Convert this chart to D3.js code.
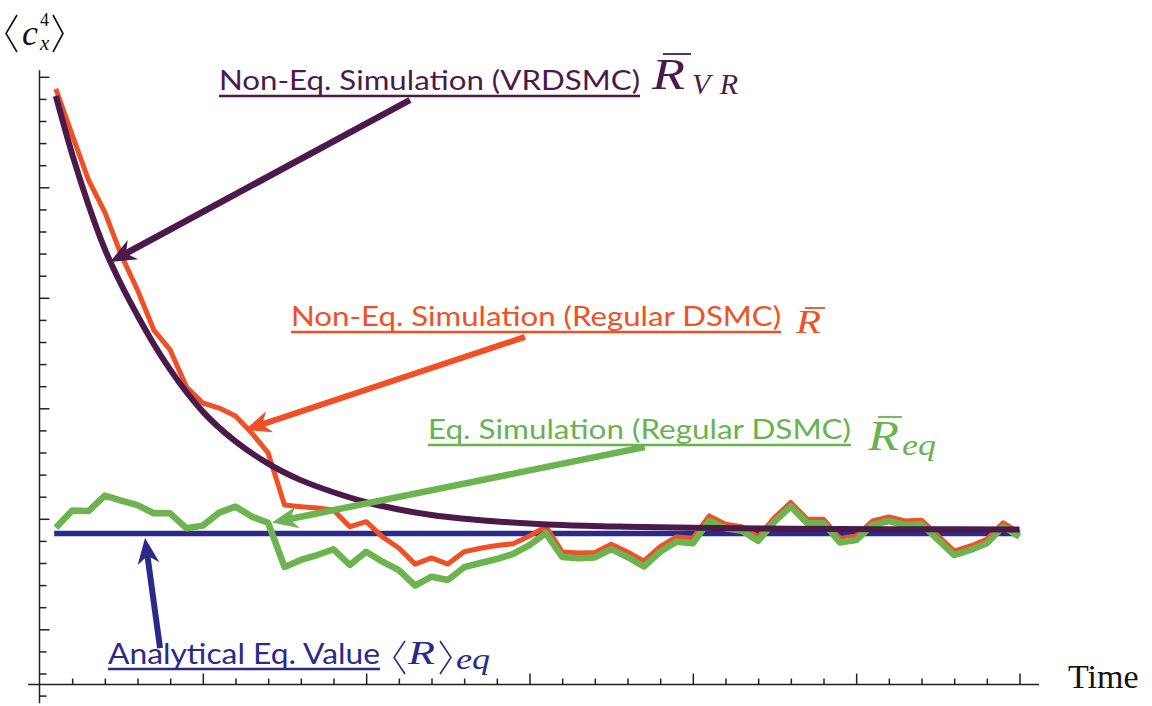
<!DOCTYPE html>
<html>
<head>
<meta charset="utf-8">
<script src="https://cdn.jsdelivr.net/npm/d3@7"></script>
<style>
  html, body { margin: 0; padding: 0; background: #fff; }
  svg { display: block; }
  .label { font-family: Lato, "Open Sans", sans-serif; font-weight: 400; }
  .math { font-family: "Liberation Serif", "DejaVu Serif", serif; font-style: italic; font-weight: normal; }
</style>
</head>
<body>
<svg id="chart"></svg>
<script>
// ---- data (time in tick units, values in minor-tick units) ----
var sampleTimes = [0.5, 1, 1.5, 2, 2.5, 3, 3.5, 4, 4.5, 5,
                   5.5, 6, 6.5, 7, 7.5, 8, 8.5, 9, 9.5, 10,
                   10.5, 11, 11.5, 12, 12.5, 13, 13.5, 14, 14.5, 15,
                   15.5, 16, 16.5, 17, 17.5, 18, 18.5, 19, 19.5, 20,
                   20.5, 21, 21.5, 22, 22.5, 23, 23.5, 24, 24.5, 25,
                   25.5, 26, 26.5, 27, 27.5, 28, 28.5, 29, 29.5, 30];

// Non-Eq. Simulation (Regular DSMC)
var nonEqRegular = [29.45, 27.37, 25.33, 23.88, 21.94, 20.35, 18.54, 17.64, 15.96, 15.24,
                    15.01, 14.65, 13.88, 12.98, 10.62, 10.55, 10.49, 10.40, 9.64, 9.87,
                    9.18, 8.68, 7.95, 8.23, 7.95, 8.51, 8.67, 8.79, 8.87, 9.22,
                    9.66, 8.50, 8.45, 8.47, 8.85, 8.50, 8.08, 8.74, 9.18, 9.12,
                    10.13, 9.75, 9.64, 9.18, 10.05, 10.74, 9.98, 9.98, 9.11, 9.22,
                    9.90, 10.08, 9.90, 9.94, 9.24, 8.54, 8.77, 9.07, 9.82, 9.37];

// Eq. Simulation (Regular DSMC)
var eqRegular = [9.60, 10.37, 10.35, 11.05, 10.82, 10.62, 10.25, 10.25, 9.57, 9.69,
                 10.28, 10.55, 10.10, 9.82, 7.82, 8.14, 8.36, 8.62, 7.91, 8.51,
                 8.06, 7.68, 6.98, 7.38, 7.23, 7.81, 8.00, 8.18, 8.41, 8.81,
                 9.35, 8.27, 8.21, 8.25, 8.63, 8.27, 7.84, 8.51, 8.96, 8.89,
                 9.91, 9.57, 9.46, 9.00, 9.87, 10.56, 9.80, 9.80, 8.93, 9.04,
                 9.72, 9.90, 9.72, 9.76, 9.06, 8.36, 8.59, 8.89, 9.64, 9.19];

// Non-Eq. Simulation (VRDSMC), smooth
var vrTimes = [0.5, 1, 1.5, 2, 2.5, 3, 3.5, 4, 5, 6, 7, 8, 9, 10, 11, 12, 13, 14, 16, 18, 20, 23, 26, 30];
var nonEqVR = [29.13, 26.5, 24.2, 22.2, 20.6, 19.2, 17.9, 16.75, 14.85, 13.5, 12.5, 11.75,
               11.2, 10.75, 10.42, 10.17, 10.0, 9.88, 9.72, 9.64, 9.59, 9.55, 9.53, 9.52];

// Analytical Eq. Value
var analyticTimes = [0.45, 30];
var analyticEq = [9.33, 9.33];

var xMinorTicks = [1, 2, 3, 4, 6, 7, 8, 9, 11, 12, 13, 14, 16, 17, 18, 19, 21, 22, 23, 24, 26, 27, 28, 29];
var xMajorTicks = [5, 10, 15, 20, 25, 30];
var yMinorTicks = [2, 3, 4, 6, 7, 8, 9, 11, 12, 13, 14, 16, 17, 18, 19, 21, 22, 23, 24, 26, 27, 28, 29];
var yMajorTicks = [5, 10, 15, 20, 25, 30];

var W = 1152, H = 706;
var purple = "#4b1a4b", orange = "#ef5025", green = "#6db34f", greenText = "#67b350", navy = "#2b2a8a";

var svg = d3.select("#chart").attr("width", W).attr("height", H);

var x = d3.scaleLinear().domain([0, 30]).range([39.5, 1019.5]);
var y = d3.scaleLinear().domain([0, 30]).range([739.8, 76.8]);

////////// axes //////////
var axisG = svg.append("g").attr("class", "axes");

function tickAxis(axis, pos, vals, size) {
  var g = axisG.append("g")
      .attr("transform", pos)
      .call(axis.tickValues(vals).tickSize(size).tickSizeOuter(0).tickFormat(""));
  g.select(".domain").remove();
  g.selectAll(".tick line").attr("stroke", "#222").attr("stroke-width", 1.5);
}

tickAxis(d3.axisTop(x), "translate(0," + y(2.5) + ")", xMinorTicks, 6);
tickAxis(d3.axisTop(x), "translate(0," + y(2.5) + ")", xMajorTicks, 11);
tickAxis(d3.axisRight(y), "translate(" + x(0) + ",0)", yMinorTicks, 7);
tickAxis(d3.axisRight(y), "translate(" + x(0) + ",0)", yMajorTicks, 10);

axisG.append("line")
    .attr("x1", x(-0.35)).attr("x2", x(30.6))
    .attr("y1", y(2.5)).attr("y2", y(2.5))
    .attr("stroke", "#222").attr("stroke-width", 1.5);
axisG.append("line")
    .attr("x1", x(0)).attr("x2", x(0))
    .attr("y1", y(1.65)).attr("y2", y(30.3))
    .attr("stroke", "#222").attr("stroke-width", 1.5);

////////// series //////////
var line = d3.line()
    .x(function(d) { return x(d[0]); })
    .y(function(d) { return y(d[1]); });

function series(ts, vs, color, width, curve) {
  svg.append("path")
      .datum(d3.zip(ts, vs))
      .attr("fill", "none")
      .attr("stroke", color)
      .attr("stroke-width", width)
      .attr("stroke-linejoin", "round")
      .attr("d", line.curve(curve || d3.curveLinear));
}

series(analyticTimes, analyticEq, navy, 5.5);
series(sampleTimes, nonEqRegular, orange, 5);
series(sampleTimes, eqRegular, green, 6.5);
series(vrTimes, nonEqVR, purple, 6, d3.curveMonotoneX);

////////// arrows //////////
function arrow(from, to, color, width) {
  var x1 = x(from[0]), y1 = y(from[1]), x2 = x(to[0]), y2 = y(to[1]);
  var dx = x2 - x1, dy = y2 - y1, len = Math.sqrt(dx * dx + dy * dy);
  var ux = dx / len, uy = dy / len, px = -uy, py = ux;
  var L = 26, hw = 11, notch = 8;
  var bx = x2 - ux * L, by = y2 - uy * L;
  var nx = x2 - ux * (L - notch), ny = y2 - uy * (L - notch);
  svg.append("line")
      .attr("x1", x1).attr("y1", y1)
      .attr("x2", nx).attr("y2", ny)
      .attr("stroke", color).attr("stroke-width", width);
  svg.append("path")
      .attr("d", "M" + x2 + "," + y2 +
                 "L" + (bx + px * hw) + "," + (by + py * hw) +
                 "L" + nx + "," + ny +
                 "L" + (bx - px * hw) + "," + (by - py * hw) + "Z")
      .attr("fill", color);
}

arrow([11.34, 28.95], [2.16, 21.62], purple, 6.5);
arrow([14.86, 18.23], [6.29, 14.02], orange, 6);
arrow([18.53, 13.25], [7.12, 9.83], green, 6.5);
arrow([3.69, 4.15], [3.23, 9.13], navy, 6);

////////// labels //////////
function label(txt, x0, x1, base, ul, size, color) {
  svg.append("text")
      .attr("class", "label")
      .attr("x", x0).attr("y", base)
      .attr("font-size", size)
      .attr("fill", color)
      .attr("textLength", x1 - x0)
      .attr("lengthAdjust", "spacingAndGlyphs")
      .text(txt);
  svg.append("line")
      .attr("x1", x0).attr("x2", x1)
      .attr("y1", ul).attr("y2", ul)
      .attr("stroke", color).attr("stroke-width", 2.6);
}

function math(txt, x0, base, size, color, tl, adj) {
  var t = svg.append("text")
      .attr("class", "math")
      .attr("x", x0).attr("y", base)
      .attr("font-size", size)
      .attr("fill", color)
      .text(txt);
  if (tl) t.attr("textLength", tl).attr("lengthAdjust", adj || "spacingAndGlyphs");
  return t;
}

function bar(xa, xb, yy, color) {
  svg.append("line")
      .attr("x1", xa).attr("x2", xb).attr("y1", yy).attr("y2", yy)
      .attr("stroke", color).attr("stroke-width", 1.8);
}

function bracket(xa, xb, top, bot, color, w) {
  var mid = (top + bot) / 2;
  svg.append("path")
      .attr("d", "M" + xa + "," + top + "L" + xb + "," + mid + "L" + xa + "," + bot)
      .attr("fill", "none").attr("stroke", color).attr("stroke-width", w || 1.6);
}

label("Non-Eq. Simulation (VRDSMC)", 219, 640, 90, 96, 26, purple);
math("R", 652, 89, 44, purple, 33);
bar(663, 691, 54, purple);
math("VR", 692, 94, 30, purple, 46, "spacing");

label("Non-Eq. Simulation (Regular DSMC)", 291, 781, 326, 332, 26, orange);
math("R", 796, 333, 34, orange, 25);
bar(805, 825, 308, orange);

label("Eq. Simulation (Regular DSMC)", 428, 851, 439, 445, 26, greenText);
math("R", 868, 450, 42, greenText, 31);
bar(878, 902, 417, greenText);
math("eq", 902, 455, 30, greenText, 34);

label("Analytical Eq. Value", 108, 380, 664, 669, 29, navy);
bracket(405, 394, 641, 674, navy);
math("R", 408, 664, 34, navy, 27);
bracket(440, 451, 641, 674, navy);
math("eq", 456, 669, 29, navy, 34);

// y axis label <c_x^4>
bracket(17, 6, 15, 52, "#111", 1.6);
math("c", 22, 45, 36, "#111");
svg.append("text")
    .attr("x", 40).attr("y", 26)
    .attr("font-family", "'Liberation Serif', serif")
    .attr("font-size", 18).attr("fill", "#111")
    .text("4");
math("x", 40, 50, 21, "#111");
bracket(53, 63, 15, 52, "#111", 1.6);

svg.append("text")
    .attr("x", 1068).attr("y", 688)
    .attr("font-family", "'Liberation Serif', 'Times New Roman', serif")
    .attr("font-size", 34).attr("fill", "#111")
    .text("Time");
</script>
</body>
</html>
